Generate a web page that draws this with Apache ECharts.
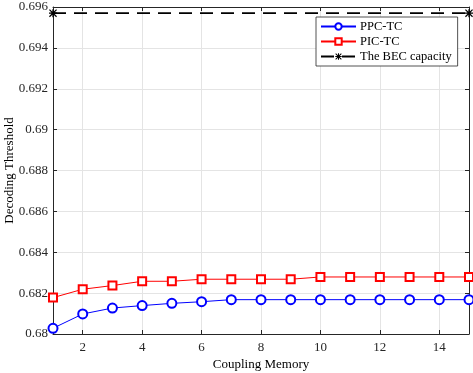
<!DOCTYPE html>
<html>
<head>
<meta charset="utf-8">
<script src="https://cdn.jsdelivr.net/npm/echarts@6/dist/echarts.min.js"></script>
<style>
  html, body { margin: 0; padding: 0; background: #fff; }
  #chart { width: 473px; height: 373px; }
</style>
</head>
<body>
<div id="chart"></div>
<script>
// coupling memory values
const memory = ["1", "2", "3", "4", "5", "6", "7", "8", "9", "10", "11", "12", "13", "14", "15"];
// decoding thresholds
const ppcTC = [0.68028, 0.68098, 0.68127, 0.68139, 0.6815, 0.68158, 0.68168, 0.68168, 0.68168, 0.68168, 0.68168, 0.68168, 0.68168, 0.68168, 0.68168];
const picTC = [0.68178, 0.68219, 0.68237, 0.68258, 0.68258, 0.68268, 0.68268, 0.68268, 0.68268, 0.68279, 0.68279, 0.68279, 0.68279, 0.68279, 0.68279];
const becCapacity = 0.6957;

const font = "Liberation Serif";
const axisColor = "#262626";

// asterisk marker
const asterisk = "path://M0 4.2L10 4.2L10 5.8L0 5.8Z M4.2 0L5.8 0L5.8 10L4.2 10Z M0 1.1L1.1 0L10 8.9L8.9 10Z M8.9 0L10 1.1L1.1 10L0 8.9Z";

const chart = echarts.init(document.getElementById("chart"));

const evenOnly = (idx) => idx % 2 === 1;

chart.setOption({
  animation: false,
  textStyle: { fontFamily: font },
  grid: { left: 53, right: 4, top: 7, bottom: 39, containLabel: false, outerBoundsMode: "none" },
  legend: {
    orient: "vertical",
    left: 316,
    top: 17,
    padding: [3, 6, 3, 4],
    itemGap: 2,
    itemWidth: 35,
    itemHeight: 8,
    backgroundColor: "#fff",
    borderColor: "#262626",
    borderWidth: 0.8,
    borderRadius: 0,
    textStyle: { fontFamily: font, fontSize: 12.5, lineHeight: 12, color: "#000", padding: [0, 0, 0, -1] },
    data: ["PPC-TC", "PIC-TC", "The BEC capacity"]
  },
  xAxis: [
    {
      type: "category",
      data: memory,
      boundaryGap: false,
      name: "Coupling Memory",
      nameLocation: "middle",
      nameGap: 24,
      nameMoveOverlap: false,
      nameTextStyle: { fontFamily: font, fontSize: 13, color: "#000" },
      axisLine: { lineStyle: { color: axisColor, width: 1 } },
      axisTick: { inside: true, length: 4, interval: evenOnly, lineStyle: { color: axisColor } },
      axisLabel: { interval: evenOnly, margin: 7, fontFamily: font, fontSize: 13, color: axisColor },
      splitLine: { show: true, interval: evenOnly, lineStyle: { color: "#e4e4e4", width: 1 } }
    },
    {
      type: "category",
      data: memory,
      boundaryGap: false,
      position: "top",
      axisLine: { lineStyle: { color: axisColor, width: 1 } },
      axisTick: { inside: true, length: 4, interval: evenOnly, lineStyle: { color: axisColor } },
      axisLabel: { show: false },
      splitLine: { show: false }
    }
  ],
  yAxis: [
    {
      type: "value",
      min: 0.68,
      max: 0.696,
      interval: 0.002,
      name: "Decoding Threshold",
      nameLocation: "middle",
      nameGap: 37,
      nameMoveOverlap: false,
      nameTextStyle: { fontFamily: font, fontSize: 13, color: "#000" },
      axisLine: { show: true, lineStyle: { color: axisColor, width: 1 } },
      axisTick: { show: true, inside: true, length: 4, lineStyle: { color: axisColor } },
      axisLabel: {
        margin: 5,
        fontFamily: font,
        fontSize: 13,
        color: axisColor,
        formatter: (v) => String(parseFloat(v.toFixed(3)))
      },
      splitLine: { show: true, lineStyle: { color: "#e4e4e4", width: 1 } }
    },
    {
      type: "value",
      min: 0.68,
      max: 0.696,
      interval: 0.002,
      position: "right",
      axisLine: { show: true, lineStyle: { color: axisColor, width: 1 } },
      axisTick: { show: true, inside: true, length: 4, lineStyle: { color: axisColor } },
      axisLabel: { show: false },
      splitLine: { show: false }
    }
  ],
  series: [
    {
      name: "PPC-TC",
      type: "line",
      data: ppcTC,
      symbol: "emptyCircle",
      symbolSize: 9,
      lineStyle: { color: "#0000ff", width: 1 },
      itemStyle: { color: "#0000ff", borderColor: "#0000ff", borderWidth: 1.2 },
      z: 3
    },
    {
      name: "PIC-TC",
      type: "line",
      data: picTC,
      symbol: "emptyRect",
      symbolSize: 8,
      lineStyle: { color: "#ff0000", width: 1 },
      itemStyle: { color: "#ff0000", borderColor: "#ff0000", borderWidth: 1.2 },
      z: 3
    },
    {
      name: "The BEC capacity",
      type: "line",
      data: [[memory[0], becCapacity], [memory[memory.length - 1], becCapacity]],
      symbol: asterisk,
      symbolSize: 8,
      lineStyle: { color: "#000", width: 1.8, type: [13, 8] },
      itemStyle: { color: "#000" },
      z: 4
    }
  ]
});
</script>
</body>
</html>
